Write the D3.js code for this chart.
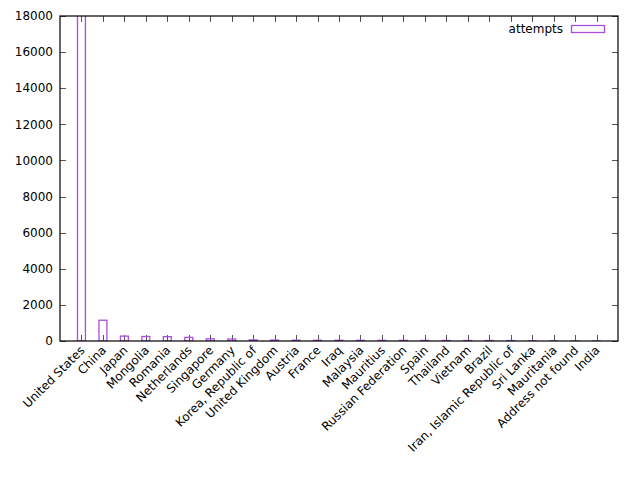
<!DOCTYPE html>
<html>
<head>
<meta charset="utf-8">
<script src="https://cdn.jsdelivr.net/npm/d3@7"></script>
<style>
  body { margin: 0; background: #fff; }
  text { font-family: "DejaVu Sans", sans-serif; font-size: 12px; fill: #000; }
</style>
</head>
<body>
<div class="chart"></div>
<script>
// attempts per country
var countries = ["United States", "China", "Japan", "Mongolia", "Romania", "Netherlands",
    "Singapore", "Germany", "Korea, Republic of", "United Kingdom", "Austria", "France",
    "Iraq", "Malaysia", "Mauritius", "Russian Federation", "Spain", "Thailand", "Vietnam",
    "Brazil", "Iran, Islamic Republic of", "Sri Lanka", "Mauritania", "Address not found", "India"];
var attempts = [18500, 1150, 270, 250, 240, 200, 120, 110, 60, 50, 45, 40, 38, 36, 34, 32,
    30, 28, 26, 24, 22, 8, 6, 4, 2];
var yTicks = [0, 2000, 4000, 6000, 8000, 10000, 12000, 14000, 16000, 18000];

var width = 640,
    height = 480;
var plotL = 60, plotR = 618, plotT = 16, plotB = 341;
var barColor = "#a94fdc";

var svg = d3.select(".chart")
    .append("svg")
    .attr("width", width)
    .attr("height", height);

var x = d3.scaleLinear()
    .domain([-1, countries.length])
    .range([plotL, plotR]);

var y = d3.scaleLinear()
    .domain([0, 18000])
    .range([plotB, plotT]);

svg.append("clipPath")
    .attr("id", "plot-clip")
    .append("rect")
    .attr("x", plotL)
    .attr("y", plotT)
    .attr("width", plotR - plotL)
    .attr("height", plotB - plotT);

// x tick marks, bottom and top (mirrored)
var idx = d3.range(countries.length);
svg.append("g")
    .selectAll("line")
    .data(idx)
    .enter()
    .append("line")
    .attr("x1", function (d) { return Math.round(x(d)) + 0.5; })
    .attr("x2", function (d) { return Math.round(x(d)) + 0.5; })
    .attr("y1", plotB)
    .attr("y2", plotB - 6)
    .style("stroke", "#555")
    .style("stroke-width", 1);

svg.append("g")
    .selectAll("line")
    .data(idx)
    .enter()
    .append("line")
    .attr("x1", function (d) { return Math.round(x(d)) + 0.5; })
    .attr("x2", function (d) { return Math.round(x(d)) + 0.5; })
    .attr("y1", plotT)
    .attr("y2", plotT + 6)
    .style("stroke", "#555")
    .style("stroke-width", 1);

// y ticks left and right
yTicks.forEach(function (t) {
    var yy = Math.round(y(t)) + 0.5;
    svg.append("line")
        .attr("x1", plotL).attr("x2", plotL + 6)
        .attr("y1", yy).attr("y2", yy)
        .style("stroke", "#555");
    svg.append("line")
        .attr("x1", plotR - 6).attr("x2", plotR)
        .attr("y1", yy).attr("y2", yy)
        .style("stroke", "#555");
    svg.append("text")
        .attr("x", plotL - 7)
        .attr("y", y(t))
        .attr("dy", "0.35em")
        .attr("text-anchor", "end")
        .text(t);
});

// bars
var bw = 0.37;
svg.append("g")
    .attr("clip-path", "url(#plot-clip)")
    .selectAll("rect")
    .data(attempts)
    .enter()
    .append("rect")
    .attr("x", function (d, i) { return x(i - bw / 2); })
    .attr("width", function () { return x(bw) - x(0); })
    .attr("y", function (d) { return y(d); })
    .attr("height", function (d) { return plotB - y(d); })
    .style("fill", "none")
    .style("stroke", barColor)
    .style("stroke-width", 1.3);

// border
svg.append("rect")
    .attr("x", plotL)
    .attr("y", plotT)
    .attr("width", plotR - plotL)
    .attr("height", plotB - plotT)
    .style("fill", "none")
    .style("stroke", "#000")
    .style("stroke-width", 1.2);

// rotated category labels
svg.append("g")
    .selectAll("text")
    .data(countries)
    .enter()
    .append("text")
    .attr("text-anchor", "end")
    .attr("transform", function (d, i) {
        return "translate(" + (x(i) + 4) + "," + (plotB + 10) + ") rotate(-45)";
    })
    .text(function (d) { return d; });

// legend
svg.append("text")
    .attr("x", 563)
    .attr("y", 29)
    .attr("dy", "0.35em")
    .attr("text-anchor", "end")
    .text("attempts");

svg.append("rect")
    .attr("x", 571.5)
    .attr("y", 25.5)
    .attr("width", 33)
    .attr("height", 7)
    .style("fill", "none")
    .style("stroke", barColor)
    .style("stroke-width", 1.3);
</script>
</body>
</html>
